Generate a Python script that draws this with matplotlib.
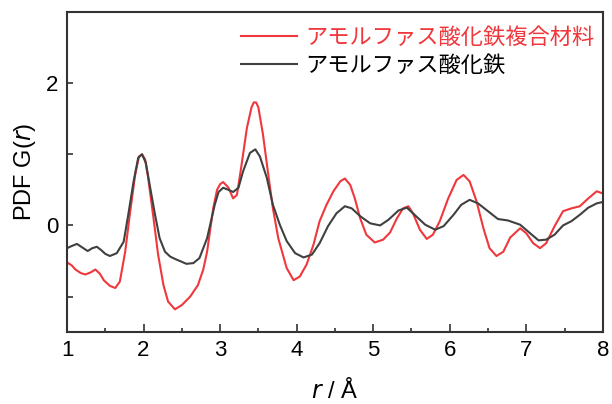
import matplotlib.pyplot as plt
from matplotlib.ticker import MultipleLocator, FixedLocator

# composite (red)
r_comp = [1.00, 1.06, 1.11, 1.18, 1.24, 1.31, 1.37, 1.43, 1.48, 1.56, 1.63, 1.69,
          1.76, 1.82, 1.89, 1.94, 1.98, 2.02, 2.06, 2.13, 2.19, 2.26, 2.32, 2.41,
          2.50, 2.61, 2.71, 2.78, 2.83, 2.91, 2.96, 3.00, 3.04, 3.11, 3.17, 3.22,
          3.28, 3.35, 3.41, 3.44, 3.47, 3.50, 3.56, 3.63, 3.69, 3.76, 3.87, 3.96, 4.04,
          4.13, 4.22, 4.30, 4.39, 4.48, 4.57, 4.63, 4.70, 4.76, 4.83, 4.91, 5.02,
          5.13, 5.22, 5.31, 5.39, 5.46, 5.52, 5.61, 5.70, 5.78, 5.87, 5.98, 6.09,
          6.18, 6.26, 6.35, 6.44, 6.52, 6.61, 6.70, 6.79, 6.92, 7.00, 7.09, 7.18,
          7.26, 7.37, 7.48, 7.59, 7.70, 7.81, 7.92, 8.00]
g_comp = [-0.52, -0.56, -0.62, -0.67, -0.69, -0.66, -0.62, -0.68, -0.77, -0.85, -0.88, -0.79,
          -0.37, 0.15, 0.71, 0.97, 1.00, 0.93, 0.67, 0.10, -0.41, -0.84, -1.07, -1.18,
          -1.12, -1.00, -0.84, -0.62, -0.37, 0.24, 0.50, 0.58, 0.61, 0.53, 0.38, 0.43,
          0.85, 1.37, 1.66, 1.73, 1.73, 1.66, 1.28, 0.71, 0.24, -0.18, -0.60, -0.77, -0.72,
          -0.55, -0.27, 0.06, 0.29, 0.48, 0.62, 0.66, 0.57, 0.38, 0.10, -0.13, -0.24,
          -0.20, -0.10, 0.10, 0.24, 0.27, 0.17, -0.06, -0.19, -0.13, 0.06, 0.38, 0.64,
          0.71, 0.62, 0.34, -0.04, -0.32, -0.43, -0.37, -0.17, -0.04, -0.11, -0.25, -0.32,
          -0.25, -0.01, 0.20, 0.24, 0.27, 0.38, 0.48, 0.45]

# amorphous iron oxide (gray)
r_fe = [1.00, 1.06, 1.13, 1.20, 1.27, 1.33, 1.39, 1.45, 1.50, 1.56, 1.65, 1.74,
        1.80, 1.87, 1.93, 1.98, 2.03, 2.08, 2.15, 2.21, 2.28, 2.35, 2.43, 2.56,
        2.65, 2.73, 2.83, 2.93, 2.98, 3.04, 3.11, 3.17, 3.24, 3.30, 3.39, 3.46,
        3.52, 3.61, 3.69, 3.78, 3.87, 3.98, 4.09, 4.20, 4.30, 4.41, 4.52, 4.63,
        4.72, 4.83, 4.96, 5.09, 5.20, 5.33, 5.44, 5.54, 5.68, 5.81, 5.92, 6.05,
        6.15, 6.26, 6.37, 6.50, 6.63, 6.76, 6.92, 7.05, 7.16, 7.26, 7.37, 7.48,
        7.59, 7.70, 7.81, 7.92, 8.00]
g_fe = [-0.32, -0.29, -0.26, -0.31, -0.36, -0.32, -0.30, -0.35, -0.40, -0.43, -0.39, -0.23,
        0.15, 0.62, 0.95, 1.00, 0.88, 0.57, 0.15, -0.18, -0.37, -0.44, -0.48, -0.54,
        -0.53, -0.46, -0.18, 0.29, 0.47, 0.53, 0.50, 0.47, 0.53, 0.76, 1.02, 1.07,
        0.97, 0.67, 0.29, 0.01, -0.22, -0.39, -0.45, -0.41, -0.25, -0.01, 0.17, 0.27,
        0.24, 0.13, 0.03, 0.00, 0.08, 0.21, 0.25, 0.15, 0.01, -0.06, -0.01, 0.15,
        0.29, 0.36, 0.31, 0.20, 0.09, 0.07, 0.01, -0.11, -0.21, -0.20, -0.13, 0.00,
        0.06, 0.15, 0.25, 0.31, 0.33]

labels = ["アモルファス酸化鉄複合材料", "アモルファス酸化鉄"]
red = "#f0373c"
gray = "#404040"

plt.rcParams['font.family'] = ['Liberation Sans', 'Noto Sans CJK JP', 'DejaVu Sans']

fig = plt.figure(figsize=(6.12, 4.04), dpi=100)
ax = fig.add_axes([0.1095, 0.178, 0.8755, 0.792])

ax.plot(r_comp, g_comp, color=red, lw=1.5, label=labels[0], solid_joinstyle='round')
ax.plot(r_fe, g_fe, color=gray, lw=1.5, label=labels[1], solid_joinstyle='round')

ax.set_xlim(1, 8)
ax.set_ylim(-1.5, 3)
ax.xaxis.set_major_locator(MultipleLocator(1))
ax.xaxis.set_minor_locator(MultipleLocator(0.5))
ax.yaxis.set_major_locator(FixedLocator([0, 2]))
ax.yaxis.set_minor_locator(FixedLocator([-1, 1]))
ax.tick_params(which='both', direction='in', width=1.2, color='#333333',
               labelsize=16, pad=6)
ax.tick_params(axis='x', which='major', length=6)
ax.tick_params(axis='x', which='minor', length=3)
ax.tick_params(axis='y', which='both', length=4)
for s in ax.spines.values():
    s.set_linewidth(1.5)
    s.set_color('#333333')

ax.set_xlabel(r"$\it{r}$ / Å", fontsize=17, labelpad=12)
ax.set_ylabel(r"PDF G($\it{r}$)", fontsize=17, labelpad=6)

leg = ax.legend(loc='upper right', bbox_to_anchor=(1.01, 1.0), frameon=False,
                prop={'family': ['Noto Sans CJK JP'], 'size': 16},
                handlelength=2.5, handletextpad=0.4, labelspacing=0.25,
                borderaxespad=0.2)
leg.get_texts()[0].set_color(red)

fig.savefig("out.png", dpi=100)
